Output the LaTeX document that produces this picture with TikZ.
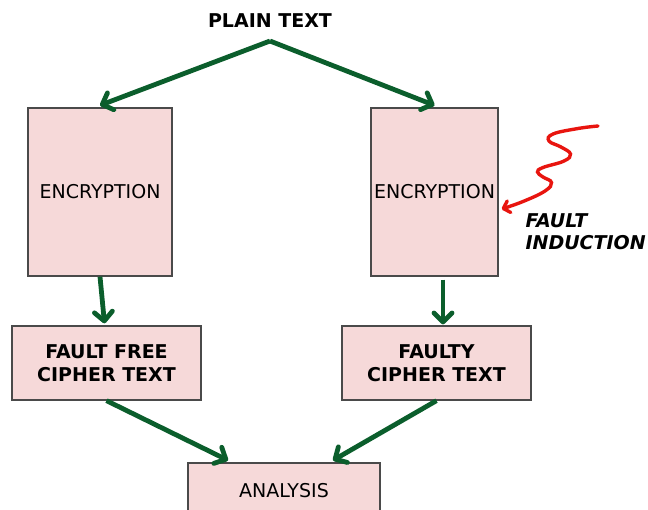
\documentclass[tikz,border=0pt]{standalone}
\usepackage{fontspec}
\setmainfont{DejaVu Sans}
\usetikzlibrary{arrows.meta,calc}
\definecolor{flowgreen}{HTML}{0B5E2C}
\definecolor{boxfill}{HTML}{F6D9D9}
\definecolor{boxline}{HTML}{4A4A4A}
\definecolor{faultred}{HTML}{E8150F}
\tikzset{
  box/.style={draw=boxline, line width=1.3pt, fill=boxfill, inner sep=0pt,
    font=\fontsize{19}{22.5}\selectfont, align=center},
  boldbox/.style={box, font=\fontsize{19}{22.5}\selectfont\bfseries},
  flow/.style={draw=flowgreen, line width=4.8pt,
    -{Straight Barb[length=9pt,width=18pt,line join=round,line cap=round]}},
  zap/.style={draw=faultred, line width=3.4pt, line cap=round,
    -{Straight Barb[length=6pt,width=12pt,line join=round,line cap=round]}}
}
\begin{document}
\begin{tikzpicture}[x=1pt,y=-1pt]
  \useasboundingbox (0,0) rectangle (648,509);
  \clip (0,0) rectangle (648,509);

  % title and branching point
  \node[font=\fontsize{19}{22}\selectfont\bfseries] (plain) at (270,21) {PLAIN TEXT};
  \coordinate (split) at (270,41);

  % the two encryption runs
  \node[box, minimum width=144pt, minimum height=168pt] (encL) at (100,192) {ENCRYPTION};
  \node[box, minimum width=127pt, minimum height=168pt] (encR) at (434.5,192) {ENCRYPTION};

  % cipher texts
  \node[boldbox, minimum width=189pt, minimum height=74pt] (ffree) at (106.5,363) {FAULT FREE\\CIPHER TEXT};
  \node[boldbox, minimum width=189pt, minimum height=74pt] (faulty) at (436.5,363) {FAULTY\\CIPHER TEXT};

  % analysis box, running off the bottom edge
  \node[box, minimum width=192pt, minimum height=56pt] (analysis) at (284,491) {ANALYSIS};

  % green flow arrows
  \draw[flow] (split) -- ($(encL.north)+(0,-2)$);
  \draw[flow] (split) -- ($(encR.north)+(0,-2)$);
  \draw[flow] (encL.south) -- ($(ffree.north)+(-2,-2)$);
  \draw[flow] ($(encR.south)+(8.5,3)$) -- ($(faulty.north)+(6.5,-1)$);
  \draw[flow] (ffree.south) -- ($(analysis.north)+(-56,-2)$);
  \draw[flow] (faulty.south) -- ($(analysis.north)+(49,-2)$);

  % fault injection squiggle
  \coordinate (hit) at ($(encR.east)+(3,17)$);
  \draw[zap] plot[smooth, tension=0.7] coordinates {
    (598,126) (578,128.5) (553,134) (549,141) (561,147) (570.5,154)
    (564,161) (543,167.5) (537.5,172) (543,177) (551.5,182.5)
    (545,191) (523,201.5) (hit)};
  \node[anchor=west, align=left, font=\fontsize{19}{21.5}\selectfont\bfseries\itshape]
    (induction) at (522,231.5) {FAULT\\INDUCTION};
\end{tikzpicture}
\end{document}
